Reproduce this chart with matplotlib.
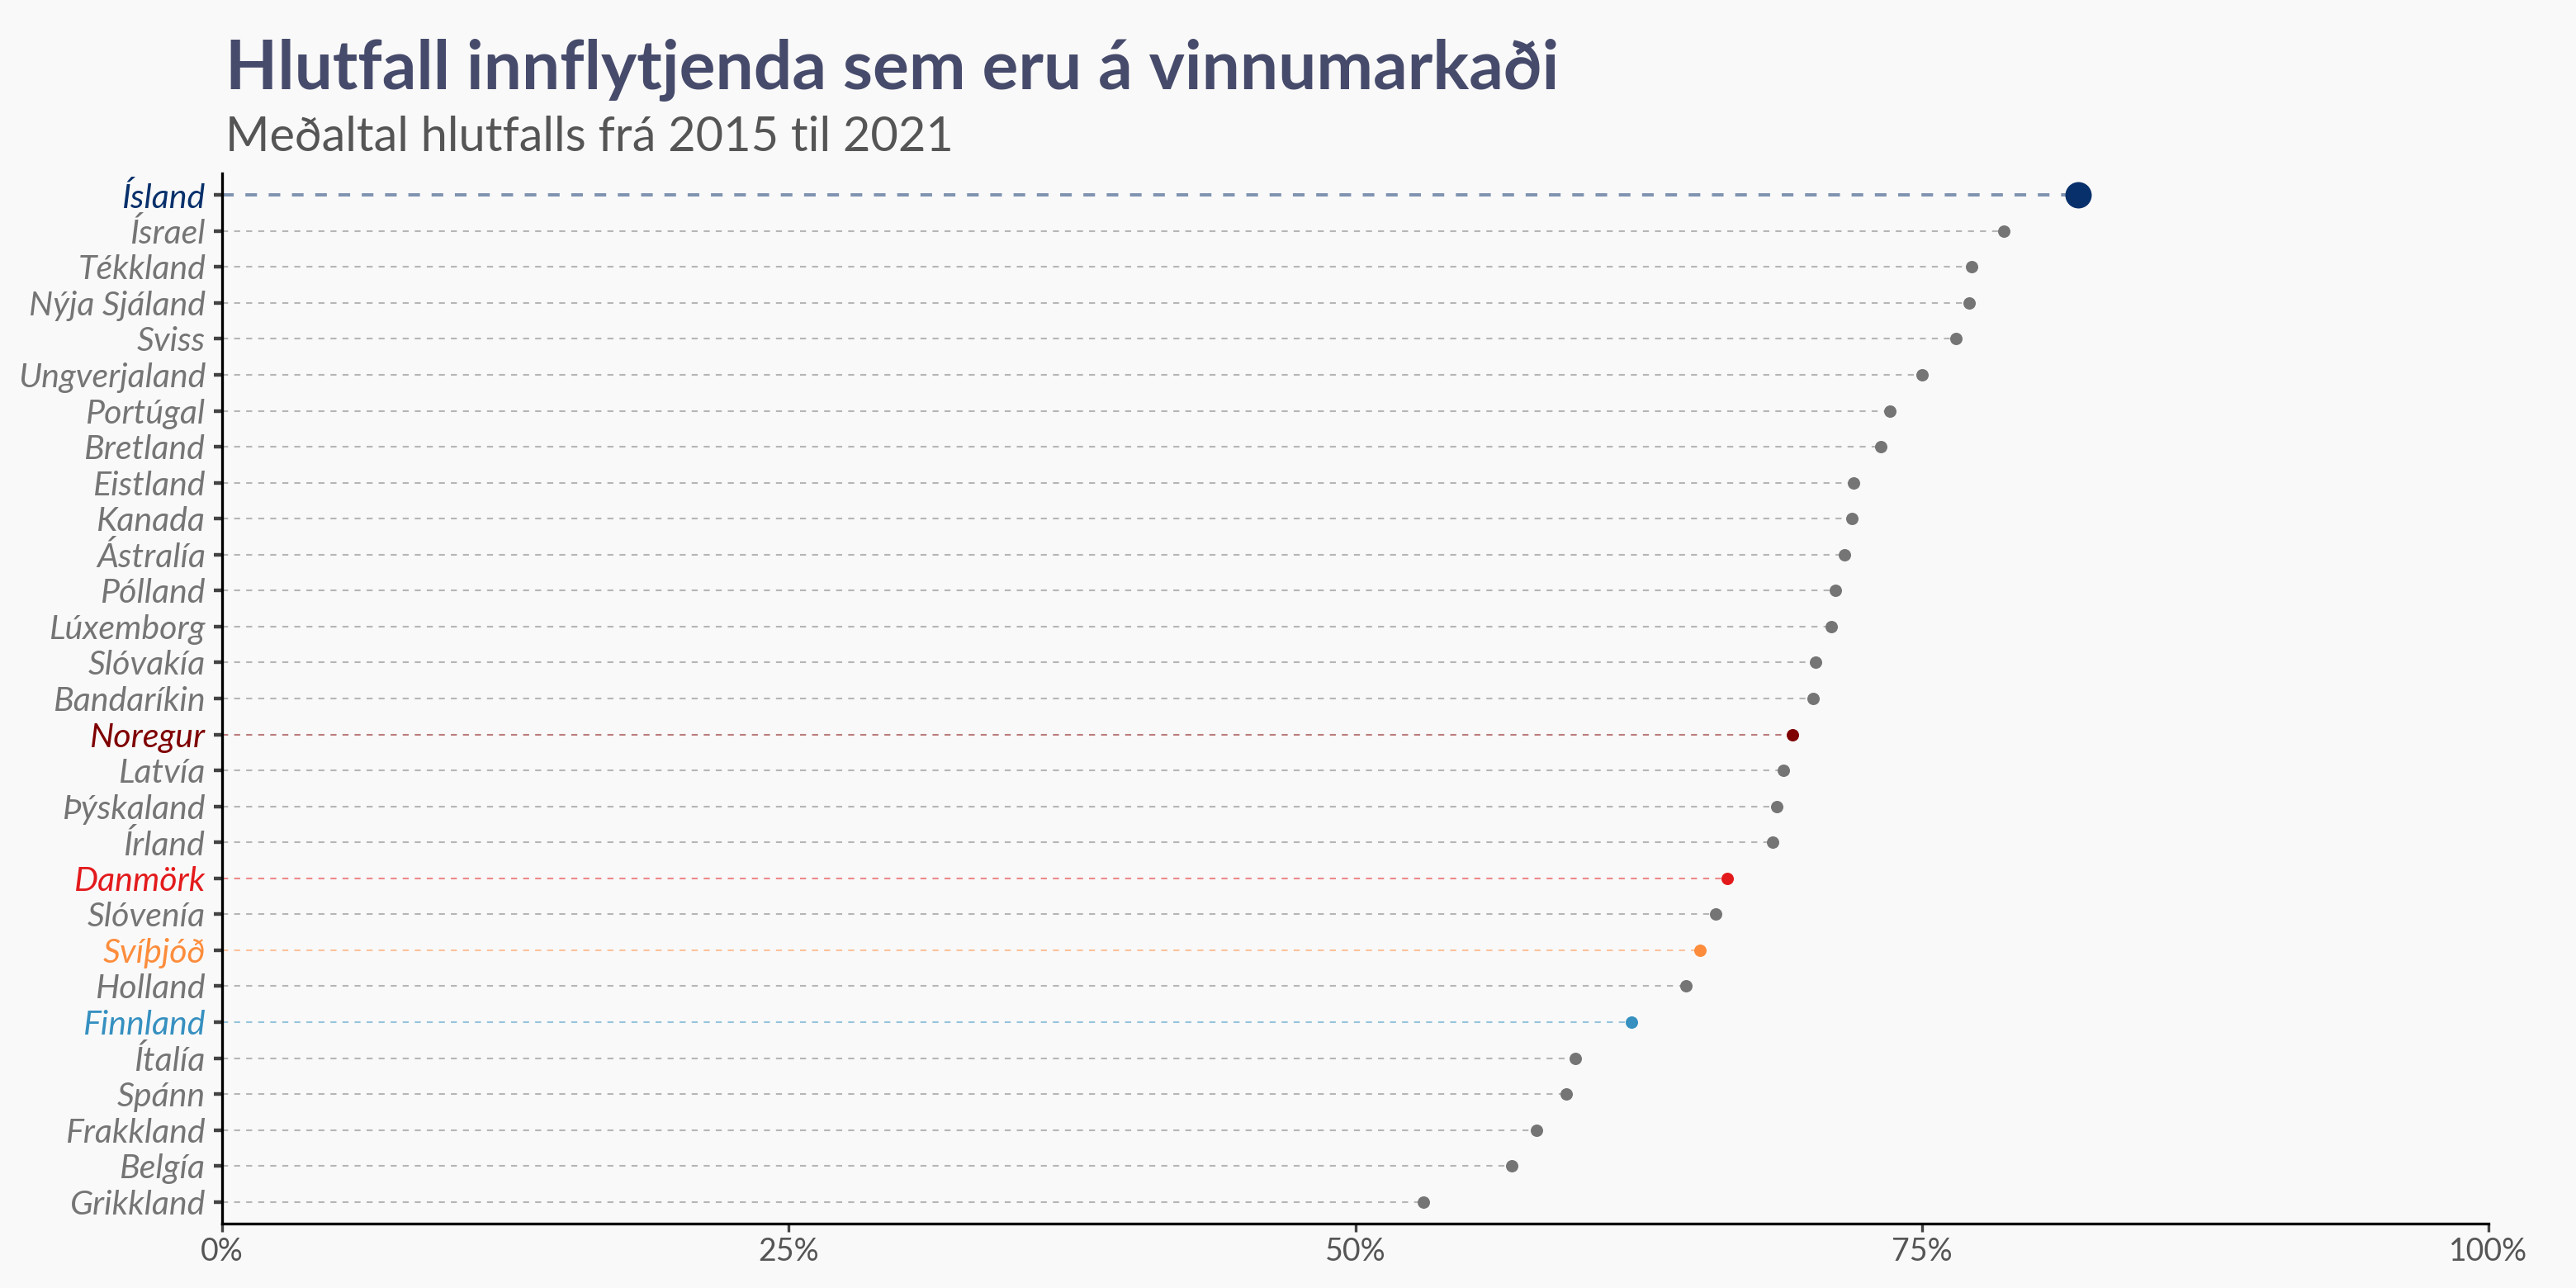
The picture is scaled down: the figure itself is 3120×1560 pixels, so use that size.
import matplotlib
matplotlib.use("Agg")
import matplotlib.pyplot as plt
from matplotlib.ticker import PercentFormatter

# Gögn: meðaltal hlutfalls 2015-2021
lond = ["Ísland", "Ísrael", "Tékkland", "Nýja Sjáland", "Sviss", "Ungverjaland",
        "Portúgal", "Bretland", "Eistland", "Kanada", "Ástralía", "Pólland",
        "Lúxemborg", "Slóvakía", "Bandaríkin", "Noregur", "Latvía", "Þýskaland",
        "Írland", "Danmörk", "Slóvenía", "Svíþjóð", "Holland", "Finnland",
        "Ítalía", "Spánn", "Frakkland", "Belgía", "Grikkland"]
hlutfall = [0.819, 0.786, 0.772, 0.771, 0.765, 0.750,
            0.736, 0.732, 0.720, 0.719, 0.716, 0.712,
            0.710, 0.703, 0.702, 0.693, 0.689, 0.686,
            0.684, 0.664, 0.659, 0.652, 0.646, 0.622,
            0.597, 0.593, 0.580, 0.569, 0.530]
x_ticks = [0, 0.25, 0.5, 0.75, 1.0]

# litir fyrir Norðurlöndin
litir = {"Ísland": "#08306b", "Noregur": "#7f0000", "Danmörk": "#e31a1c",
         "Svíþjóð": "#fd8d3c", "Finnland": "#3690c0"}
grar = "#757575"
bg = "#f9f9f9"

plt.rcParams["font.family"] = ["Lato", "DejaVu Sans"]

fig = plt.figure(figsize=(15.6, 7.8), dpi=200, facecolor=bg)
ax = fig.add_axes([269/3120, 1 - 1482/1560, (3014-269)/3120, (1482-210)/1560])
ax.set_facecolor(bg)

for i, (land, v) in enumerate(zip(lond, hlutfall)):
    c = litir.get(land, grar)
    if land == "Ísland":
        lw, ms = 1.45, 11.5
    else:
        lw, ms = 0.75, 5.4
    ax.plot([0, v], [i, i], color=c, alpha=0.5, lw=lw, dashes=(3.5, 3.5), zorder=1)
    ax.plot(v, i, "o", ms=ms, color=c, mec="none", zorder=2)

ax.set_xlim(0, 1)
ax.set_ylim(len(lond) - 0.4, -0.6)
ax.set_xticks(x_ticks)
ax.xaxis.set_major_formatter(PercentFormatter(1.0, decimals=0))
ax.set_yticks(range(len(lond)))
ax.set_yticklabels(lond, fontstyle="italic", fontsize=14.8)
for lab in ax.get_yticklabels():
    lab.set_color(litir.get(lab.get_text(), grar))

ax.tick_params(axis="y", length=3.6, width=1.6, color="#444444", pad=3.5)
ax.tick_params(axis="x", length=3.6, width=1.2, color="#444444", pad=2,
               labelsize=13.5, labelcolor="#555555")

for s in ["top", "right"]:
    ax.spines[s].set_visible(False)
for s in ["left", "bottom"]:
    ax.spines[s].set_linewidth(1.2)
    ax.spines[s].set_color("black")

fig.text(273/3120, 1 - 108/1560, "Hlutfall innflytjenda sem eru á vinnumarkaði",
         fontsize=29.5, fontweight="bold", color="#474b6b", va="baseline")
fig.text(273/3120, 1 - 183/1560, "Meðaltal hlutfalls frá 2015 til 2021",
         fontsize=20.8, color="#555555", va="baseline")

fig.savefig("out.png", dpi=200, facecolor=bg)
